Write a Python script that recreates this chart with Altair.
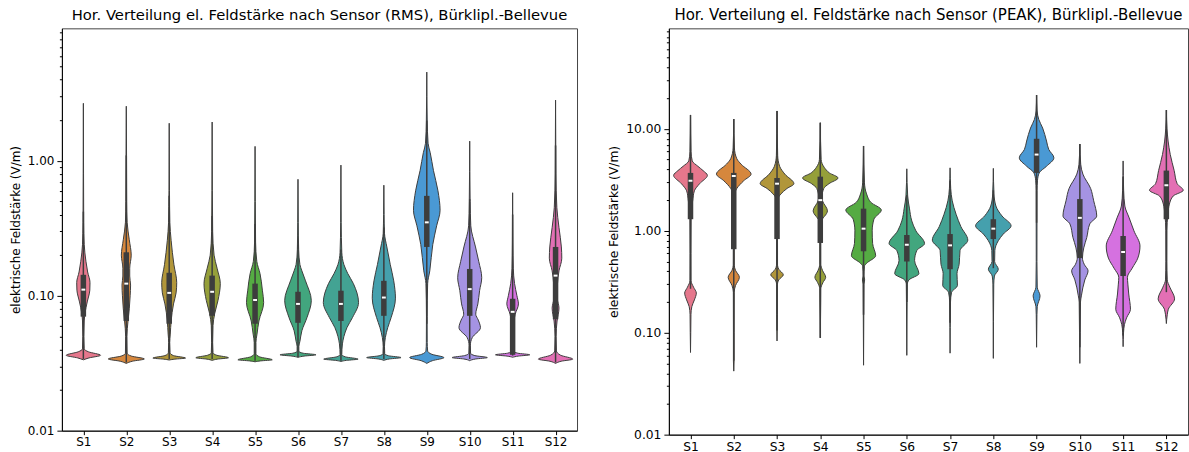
import altair as alt
import pandas as pd

SENSORS = ["S1", "S2", "S3", "S4", "S5", "S6", "S7", "S8", "S9", "S10", "S11", "S12"]
COLORS = ["#e5778c", "#d6873d", "#b1963a", "#959f3a", "#55ab43", "#42a67e",
          "#43a393", "#45a0ad", "#4a99d4", "#a593e3", "#d571e0", "#e36fb4"]

TITLE_RMS = "Hor. Verteilung el. Feldstärke nach Sensor (RMS), Bürklipl.-Bellevue"
TITLE_PEAK = "Hor. Verteilung el. Feldstärke nach Sensor (PEAK), Bürklipl.-Bellevue"
Y_TITLE = "elektrische Feldstärke (V/m)"

# ---- violin outlines: (value in V/m, half width in category units), bottom -> top
RMS_S1 = [(0.0335, 0), (0.0346, 0.13), (0.0362, 0.40), (0.0384, 0.12), (0.0404, 0.02), (0.05, 0.012), (0.065, 0.02), (0.075, 0.04), (0.09, 0.09), (0.11, 0.15), (0.125, 0.155), (0.15, 0.10), (0.18, 0.06), (0.24, 0.02), (0.35, 0.008), (0.8, 0.004), (2.67, 0)]
RMS_S2 = [(0.0315, 0), (0.0327, 0.14), (0.034, 0.42), (0.0357, 0.12), (0.0375, 0.02), (0.05, 0.015), (0.065, 0.04), (0.08, 0.07), (0.1, 0.09), (0.12, 0.10), (0.14, 0.08), (0.16, 0.08), (0.2, 0.115), (0.26, 0.07), (0.35, 0.02), (0.5, 0.01), (1.1, 0.006), (2.54, 0)]
RMS_S3 = [(0.0334, 0), (0.0339, 0.13), (0.0345, 0.38), (0.036, 0.10), (0.0378, 0.02), (0.045, 0.012), (0.052, 0.025), (0.065, 0.045), (0.087, 0.10), (0.105, 0.16), (0.125, 0.175), (0.17, 0.11), (0.256, 0.045), (0.35, 0.015), (0.6, 0.006), (1.9, 0)]
RMS_S4 = [(0.0332, 0), (0.0339, 0.12), (0.0347, 0.38), (0.0362, 0.11), (0.0378, 0.02), (0.045, 0.012), (0.06, 0.02), (0.074, 0.06), (0.092, 0.135), (0.123, 0.19), (0.16, 0.115), (0.2, 0.045), (0.3, 0.012), (0.6, 0.005), (1.94, 0)]
RMS_S5 = [(0.0324, 0), (0.0329, 0.13), (0.0335, 0.40), (0.0352, 0.11), (0.0372, 0.02), (0.045, 0.02), (0.052, 0.045), (0.065, 0.09), (0.089, 0.20), (0.11, 0.17), (0.146, 0.115), (0.18, 0.04), (0.25, 0.012), (0.5, 0.005), (1.28, 0)]
RMS_S6 = [(0.0350, 0), (0.0357, 0.14), (0.0365, 0.42), (0.0375, 0.12), (0.0388, 0.02), (0.042, 0.02), (0.046, 0.045), (0.055, 0.09), (0.069, 0.21), (0.092, 0.31), (0.129, 0.175), (0.153, 0.09), (0.17, 0.045), (0.22, 0.015), (0.35, 0.006), (0.73, 0)]
RMS_S7 = [(0.0326, 0), (0.0332, 0.13), (0.0339, 0.40), (0.0352, 0.11), (0.0366, 0.02), (0.044, 0.035), (0.05, 0.07), (0.058, 0.14), (0.069, 0.27), (0.089, 0.41), (0.123, 0.29), (0.146, 0.16), (0.17, 0.07), (0.21, 0.02), (0.35, 0.006), (0.93, 0)]
RMS_S8 = [(0.0332, 0), (0.034, 0.13), (0.0348, 0.40), (0.0359, 0.11), (0.0372, 0.02), (0.042, 0.015), (0.049, 0.035), (0.058, 0.09), (0.069, 0.17), (0.096, 0.27), (0.129, 0.23), (0.17, 0.15), (0.23, 0.07), (0.29, 0.015), (0.4, 0.006), (0.66, 0)]
RMS_S9 = [(0.0315, 0), (0.0330, 0.13), (0.0348, 0.40), (0.0368, 0.12), (0.039, 0.02), (0.045, 0.01), (0.07, 0.008), (0.123, 0.02), (0.153, 0.07), (0.24, 0.14), (0.33, 0.23), (0.43, 0.31), (0.6, 0.26), (0.85, 0.155), (1.15, 0.08), (1.35, 0.03), (2.0, 0.01), (4.55, 0)]
RMS_S10 = [(0.0330, 0), (0.034, 0.14), (0.0348, 0.41), (0.036, 0.12), (0.0375, 0.02), (0.043, 0.015), (0.049, 0.06), (0.058, 0.25), (0.066, 0.2), (0.073, 0.14), (0.087, 0.19), (0.109, 0.23), (0.136, 0.28), (0.18, 0.21), (0.23, 0.135), (0.33, 0.025), (0.5, 0.01), (1.40, 0)]
RMS_S11 = [(0.0350, 0), (0.0357, 0.13), (0.0365, 0.40), (0.0375, 0.12), (0.0388, 0.02), (0.045, 0.025), (0.06, 0.025), (0.073, 0.06), (0.087, 0.135), (0.1, 0.1), (0.123, 0.045), (0.16, 0.015), (0.25, 0.006), (0.58, 0)]
RMS_S12 = [(0.0315, 0), (0.0327, 0.13), (0.0339, 0.40), (0.0362, 0.12), (0.039, 0.02), (0.05, 0.012), (0.065, 0.035), (0.081, 0.08), (0.095, 0.04), (0.109, 0.035), (0.123, 0.045), (0.153, 0.08), (0.19, 0.145), (0.23, 0.135), (0.32, 0.08), (0.45, 0.03), (0.8, 0.008), (2.82, 0)]

PEAK_S1 = [(0.064, 0), (0.1, 0.006), (0.15, 0.01), (0.18, 0.03), (0.21, 0.09), (0.245, 0.135), (0.28, 0.07), (0.324, 0.012), (0.6, 0.01), (1.5, 0.015), (1.97, 0.05), (2.47, 0.09), (2.9, 0.21), (3.5, 0.39), (3.9, 0.29), (4.3, 0.17), (4.85, 0.04), (6.0, 0.012), (13.7, 0)]
PEAK_S2 = [(0.042, 0), (0.053, 0.008), (0.1, 0.008), (0.25, 0.01), (0.29, 0.04), (0.35, 0.13), (0.41, 0.04), (0.46, 0.012), (1.5, 0.01), (2.3, 0.02), (2.6, 0.07), (3.1, 0.23), (3.6, 0.40), (4.5, 0.17), (5.1, 0.07), (6.5, 0.015), (12.5, 0)]
PEAK_S3 = [(0.083, 0), (0.15, 0.008), (0.3, 0.01), (0.33, 0.04), (0.37, 0.145), (0.42, 0.04), (0.46, 0.012), (1.5, 0.01), (2.1, 0.03), (2.3, 0.09), (2.6, 0.23), (2.9, 0.39), (3.6, 0.18), (4.3, 0.06), (5.5, 0.015), (15.0, 0)]
PEAK_S4 = [(0.089, 0), (0.2, 0.01), (0.27, 0.012), (0.31, 0.06), (0.35, 0.125), (0.41, 0.05), (0.47, 0.012), (1.0, 0.012), (1.22, 0.02), (1.57, 0.165), (1.97, 0.05), (2.1, 0.035), (2.6, 0.08), (2.9, 0.2), (3.3, 0.41), (3.7, 0.21), (4.2, 0.09), (5.0, 0.02), (11.5, 0)]
PEAK_S5 = [(0.048, 0), (0.15, 0.006), (0.3, 0.01), (0.33, 0.025), (0.36, 0.01), (0.45, 0.02), (0.48, 0.07), (0.57, 0.28), (0.75, 0.21), (1.0, 0.2), (1.3, 0.24), (1.6, 0.41), (1.9, 0.17), (2.3, 0.07), (3.0, 0.02), (6.8, 0)]
PEAK_S6 = [(0.06, 0), (0.2, 0.008), (0.3, 0.012), (0.33, 0.05), (0.38, 0.28), (0.51, 0.18), (0.64, 0.23), (0.75, 0.41), (1.0, 0.21), (1.25, 0.115), (1.67, 0.06), (2.2, 0.02), (4.06, 0)]
PEAK_S7 = [(0.063, 0), (0.2, 0.01), (0.25, 0.035), (0.29, 0.17), (0.38, 0.16), (0.47, 0.21), (0.64, 0.23), (0.81, 0.41), (1.1, 0.25), (1.45, 0.14), (1.97, 0.05), (2.6, 0.015), (4.15, 0)]
PEAK_S8 = [(0.056, 0), (0.3, 0.01), (0.36, 0.025), (0.42, 0.115), (0.5, 0.03), (0.64, 0.035), (0.8, 0.115), (0.93, 0.23), (1.12, 0.41), (1.4, 0.2), (1.75, 0.06), (2.3, 0.015), (4.1, 0)]
PEAK_S9 = [(0.072, 0), (0.15, 0.008), (0.18, 0.015), (0.23, 0.08), (0.28, 0.015), (0.5, 0.008), (2.5, 0.01), (3.1, 0.02), (3.7, 0.06), (4.3, 0.23), (5.2, 0.40), (6.3, 0.28), (7.6, 0.23), (10.2, 0.14), (12.4, 0.05), (15.0, 0.012), (21.5, 0)]
PEAK_S10 = [(0.05, 0), (0.1, 0.008), (0.2, 0.015), (0.23, 0.035), (0.33, 0.115), (0.405, 0.19), (0.47, 0.1), (0.54, 0.06), (0.68, 0.09), (0.86, 0.16), (1.17, 0.23), (1.4, 0.39), (1.97, 0.32), (2.6, 0.25), (3.6, 0.07), (4.5, 0.02), (7.1, 0)]
PEAK_S11 = [(0.073, 0), (0.1, 0.01), (0.12, 0.03), (0.14, 0.08), (0.17, 0.17), (0.24, 0.13), (0.3, 0.11), (0.35, 0.1), (0.43, 0.21), (0.54, 0.34), (0.71, 0.39), (1.0, 0.25), (1.34, 0.14), (1.75, 0.04), (2.5, 0.012), (4.85, 0)]
PEAK_S12 = [(0.123, 0), (0.15, 0.02), (0.17, 0.045), (0.215, 0.19), (0.28, 0.08), (0.33, 0.02), (0.5, 0.01), (1.0, 0.012), (1.45, 0.035), (1.83, 0.07), (2.2, 0.16), (2.5, 0.39), (2.9, 0.25), (3.9, 0.18), (5.6, 0.09), (7.6, 0.04), (10.0, 0.015), (15.3, 0)]

# ---- inner box statistics
RMS_Q1 = [0.070, 0.065, 0.062, 0.071, 0.062, 0.063, 0.065, 0.071, 0.23, 0.071, 0.0365, 0.067]
RMS_MED = [0.111, 0.123, 0.105, 0.107, 0.093, 0.087, 0.087, 0.097, 0.35, 0.112, 0.076, 0.141]
RMS_Q3 = [0.143, 0.21, 0.148, 0.141, 0.123, 0.107, 0.109, 0.129, 0.55, 0.158, 0.095, 0.23]
RMS_WLO = [0.034, 0.032, 0.034, 0.034, 0.033, 0.035, 0.033, 0.034, 0.062, 0.034, 0.036, 0.032]
RMS_WHI = [0.42, 1.1, 0.55, 0.39, 0.34, 0.24, 0.22, 0.32, 2.0, 0.52, 0.40, 1.3]

PEAK_Q1 = [1.3, 0.66, 0.83, 0.76, 0.63, 0.5, 0.42, 0.83, 3.7, 0.54, 0.36, 1.3]
PEAK_MED = [3.1, 3.45, 2.9, 2.0, 1.05, 0.73, 0.72, 1.05, 5.6, 1.34, 0.62, 2.8]
PEAK_Q3 = [3.7, 3.7, 3.3, 3.4, 1.65, 0.91, 0.93, 1.3, 8.0, 2.05, 0.89, 3.9]
PEAK_WLO = [0.27, 0.053, 0.105, 0.089, 0.15, 0.2, 0.125, 0.43, 1.2, 0.072, 0.094, 0.25]
PEAK_WHI = [13.7, 12.5, 15.0, 11.5, 6.8, 2.24, 3.1, 2.5, 21.5, 7.1, 3.4, 15.3]

# ---- axis ticks
RMS_TICKS = [0.01, 0.02, 0.03, 0.04, 0.05, 0.06, 0.07, 0.08, 0.09,
             0.1, 0.2, 0.3, 0.4, 0.5, 0.6, 0.7, 0.8, 0.9,
             1, 2, 3, 4, 5, 6, 7, 8, 9]
PEAK_TICKS = RMS_TICKS + [10, 20, 30, 40, 50, 60, 70, 80, 90]
X_TICKS = [1, 2, 3, 4, 5, 6, 7, 8, 9, 10, 11, 12]

RMS_SHAPES = [RMS_S1, RMS_S2, RMS_S3, RMS_S4, RMS_S5, RMS_S6, RMS_S7, RMS_S8, RMS_S9, RMS_S10, RMS_S11, RMS_S12]
PEAK_SHAPES = [PEAK_S1, PEAK_S2, PEAK_S3, PEAK_S4, PEAK_S5, PEAK_S6, PEAK_S7, PEAK_S8, PEAK_S9, PEAK_S10, PEAK_S11, PEAK_S12]

EDGE = "#3d3d3d"
FONT = "DejaVu Sans"
MAJOR = "abs(log(datum.value)/LN10 - round(log(datum.value)/LN10)) < 0.01"


def panel(title, shapes, q1, med, q3, wlo, whi, ydomain, yticks, width, height, fs, tfs):
    vrows = []
    for i, (name, pts) in enumerate(zip(SENSORS, shapes)):
        for v, w in pts:
            vrows.append({"sensor": name, "pos": i + 1, "value": v, "hw": w})
    vdf = pd.DataFrame(vrows)
    bdf = pd.DataFrame({"sensor": SENSORS, "pos": X_TICKS, "q1": q1, "med": med,
                        "q3": q3, "wlo": wlo, "whi": whi})

    xscale = alt.Scale(domain=[0.5, 12.5], nice=False, zero=False)
    yscale = alt.Scale(type="log", domain=ydomain, nice=False)
    xaxis = alt.Axis(values=X_TICKS, labelExpr="'S' + datum.value", title=None, grid=False,
                     tickSize=4, labelPadding=1.5, labelFontSize=fs, labelFlush=False,
                     domainColor="black", tickColor="black", labelColor="black")
    yaxis = alt.Axis(values=yticks, title=Y_TITLE, grid=False, labelOverlap=False,
                     labelFlush=False,
                     labelExpr=MAJOR + " ? format(datum.value, '.2f') : ''",
                     tickSize={"condition": {"test": MAJOR, "value": 5}, "value": 2.5},
                     labelPadding=3, labelFontSize=fs, titleFontSize=fs,
                     titleFontWeight="normal", titlePadding=5,
                     domainColor="black", tickColor="black", labelColor="black",
                     titleColor="black")

    violins = alt.Chart(vdf).transform_calculate(
        lo="datum.pos - datum.hw", hi="datum.pos + datum.hw"
    ).mark_area(orient="horizontal", interpolate="monotone", stroke=EDGE,
                strokeWidth=1, opacity=1).encode(
        x=alt.X("lo:Q", scale=xscale, axis=xaxis, stack=None),
        x2="hi:Q",
        y=alt.Y("value:Q", scale=yscale, axis=yaxis),
        color=alt.Color("sensor:N", scale=alt.Scale(domain=SENSORS, range=COLORS), legend=None),
    )
    bb = alt.Chart(bdf)
    whisk = bb.mark_rule(color=EDGE, strokeWidth=1.5).encode(
        x=alt.X("pos:Q", scale=xscale), y=alt.Y("wlo:Q", scale=yscale), y2="whi:Q")
    box = bb.mark_rule(color=EDGE, strokeWidth=5.5).encode(
        x=alt.X("pos:Q", scale=xscale), y=alt.Y("q1:Q", scale=yscale), y2="q3:Q")
    medl = bb.transform_calculate(
        mlo="datum.pos - 0.045", mhi="datum.pos + 0.045"
    ).mark_rule(color="white", strokeWidth=2).encode(
        x=alt.X("mlo:Q", scale=xscale), x2="mhi:Q", y=alt.Y("med:Q", scale=yscale))

    return alt.layer(violins, whisk, box, medl).properties(
        width=width, height=height,
        title=alt.TitleParams(title, fontSize=tfs, fontWeight="normal", font=FONT,
                              color="black", offset=3),
    )


left = panel(TITLE_RMS, RMS_SHAPES, RMS_Q1, RMS_MED, RMS_Q3, RMS_WLO, RMS_WHI,
             [0.01, 9.6], RMS_TICKS, 516, 403, 12, 14.8)
right = panel(TITLE_PEAK, PEAK_SHAPES, PEAK_Q1, PEAK_MED, PEAK_Q3, PEAK_WLO, PEAK_WHI,
              [0.01, 97], PEAK_TICKS, 520, 407, 12.3, 15.0)

chart = alt.hconcat(left, right, spacing=29).properties(
    padding={"left": 8, "top": 6, "right": 0, "bottom": 0},
    background="white",
).configure_view(stroke="#444444", strokeWidth=1).configure_axis(
    labelFont=FONT, titleFont=FONT, tickWidth=1, domainWidth=1
).configure_title(font=FONT)

chart.save("out.html", embed_options={"renderer": "svg", "actions": False})
